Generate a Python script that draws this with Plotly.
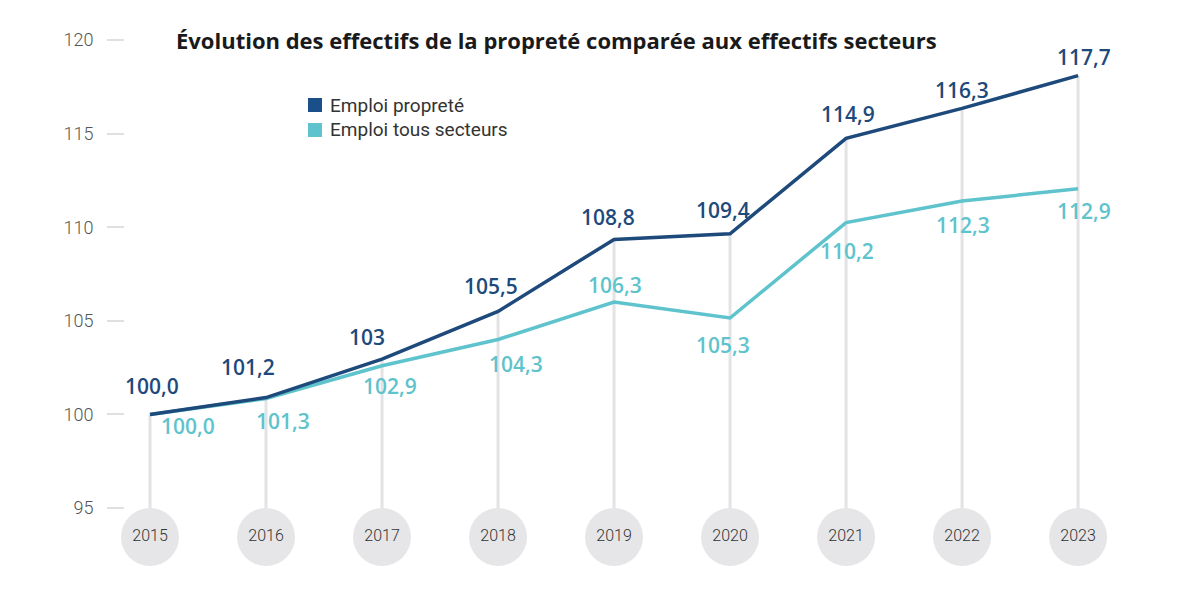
import plotly.graph_objects as go

years = [2015, 2016, 2017, 2018, 2019, 2020, 2021, 2022, 2023]
proprete = [100.0, 100.9, 102.95, 105.5, 109.35, 109.65, 114.75, 116.35, 118.1]
tous_secteurs = [100.0, 100.85, 102.6, 104.0, 106.0, 105.15, 110.25, 111.4, 112.05]
proprete_labels = ["100,0", "101,2", "103", "105,5", "108,8", "109,4", "114,9", "116,3", "117,7"]
tous_labels = ["100,0", "101,3", "102,9", "104,3", "106,3", "105,3", "110,2", "112,3", "112,9"]
y_ticks = [95, 100, 105, 110, 115, 120]
series_names = ["Emploi propreté", "Emploi tous secteurs"]
title_text = "Évolution des effectifs de la propreté comparée aux effectifs secteurs"

C_PROP = "#1d4a7b"
C_PROP_LEG = "#1a4f8a"
C_TOUS = "#5ec3cc"
C_GRID = "#e3e3e5"
C_CIRCLE = "#e6e6e8"

# label offsets in pixels (dx, dy screen-down)
prop_off = [(2, -28), (-18, -31), (-15, -22), (-7, -25), (-6, -22), (-7, -24), (2, -24), (0, -18), (6, -19)]
tous_off = [(38, 12), (17, 22), (8, 20), (18, 24), (1, -17), (-7, 27), (1, 28), (1, 24), (6, 22)]

circle_y = 93.45

# plot area in page pixels (page has 8px body margin)
PL, PT, PW, PH = 125, 20, 1025, 570
OFF = 8


def px(xp):
    return (xp - PL) / PW


def py(yp):
    return 1 - (yp - PT) / PH


fig = go.Figure()

# vertical grey stems
sx, sy = [], []
for x, v in zip(years, proprete):
    sx += [x, x, None]
    sy += [circle_y, v, None]
fig.add_trace(go.Scatter(x=sx, y=sy, mode="lines", line=dict(color=C_GRID, width=3),
                         showlegend=False, hoverinfo="skip"))

# year circles
fig.add_trace(go.Scatter(x=years, y=[circle_y] * len(years), mode="markers+text",
                         marker=dict(size=58, color=C_CIRCLE, line=dict(width=0)),
                         text=[str(y) for y in years], textposition="middle center",
                         textfont=dict(family="Roboto", size=16, color="#333333", weight=300),
                         showlegend=False, hoverinfo="skip", cliponaxis=False))

fig.add_trace(go.Scatter(x=years, y=tous_secteurs, mode="lines",
                         line=dict(color=C_TOUS, width=3.5), showlegend=False, name=series_names[1]))
fig.add_trace(go.Scatter(x=years, y=proprete, mode="lines",
                         line=dict(color=C_PROP, width=3.5), showlegend=False, name=series_names[0]))

annotations = []
shapes = []
lab_font = dict(family="Open Sans", size=21, weight=600)
for x, v, t, (dx, dy) in zip(years, proprete, proprete_labels, prop_off):
    annotations.append(dict(x=x, y=v, text=t, showarrow=False, xshift=dx, yshift=-dy,
                            font=dict(**lab_font, color=C_PROP)))
for x, v, t, (dx, dy) in zip(years, tous_secteurs, tous_labels, tous_off):
    annotations.append(dict(x=x, y=v, text=t, showarrow=False, xshift=dx, yshift=-dy,
                            font=dict(**lab_font, color=C_TOUS)))
annotations.append(dict(xref="paper", yref="paper", x=px(556), y=py(40),
                        text=title_text, showarrow=False, xanchor="center", yanchor="middle",
                        font=dict(family="Open Sans", size=22, weight=700, color="#1a1a1a")))

# manual legend
leg_colors = [C_PROP_LEG, C_TOUS]
leg_y = [105, 130]
for name, col, ly in zip(series_names, leg_colors, leg_y):
    shapes.append(dict(type="rect", xref="paper", yref="paper",
                       x0=px(308), x1=px(322), y0=py(ly + 7), y1=py(ly - 7),
                       fillcolor=col, line=dict(width=0)))
    annotations.append(dict(xref="paper", yref="paper", x=px(328), y=py(ly), text=name,
                            showarrow=False, xanchor="left", yanchor="middle",
                            font=dict(family="Roboto", size=19, color="#333333")))

fig.update_layout(
    width=1193, height=607,
    margin=dict(l=PL - OFF, r=1193 - (PL - OFF) - PW, t=PT - OFF, b=607 - (PT - OFF) - PH),
    paper_bgcolor="white", plot_bgcolor="white",
    showlegend=False,
    annotations=annotations,
    shapes=shapes,
    xaxis=dict(range=[2014.7845, 2023.62], showgrid=False, zeroline=False, showticklabels=False,
               showline=False, ticks=""),
    yaxis=dict(range=[90.62, 121.07], tickvals=y_ticks, ticktext=[str(t) for t in y_ticks],
               showgrid=False, zeroline=False, showline=False, ticks="outside", ticklen=17,
               tickwidth=2, tickcolor="#e0e0e0", ticklabelstandoff=10,
               tickfont=dict(family="Roboto", size=18, color="#555555", weight=300)),
)

fig.write_html("out.html")
